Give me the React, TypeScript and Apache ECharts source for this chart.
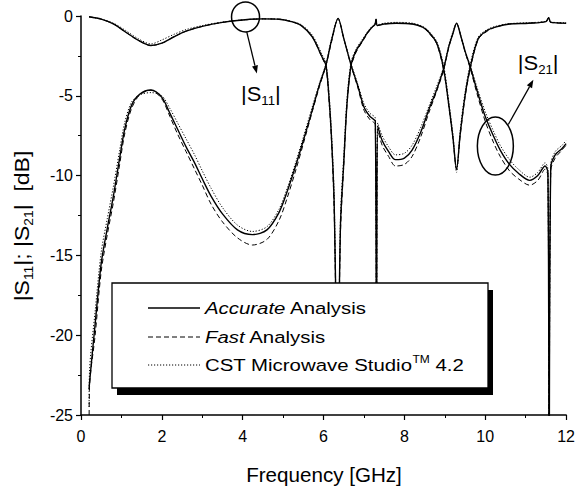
import React, { useEffect, useRef } from 'react';
import * as echarts from 'echarts';

const FONT = '"Liberation Sans", Arial, Helvetica, sans-serif';

// |S11| samples (frequency in GHz, value in dB)
const s11Freq = [0.2, 0.5, 0.8, 1.1, 1.4, 1.73, 2.0, 2.3, 2.6, 3.0, 3.5, 4.0, 4.5, 4.9, 5.2, 5.45, 5.72, 5.96, 6.06, 6.14, 6.2, 6.26, 6.35, 6.42, 6.5, 6.58, 6.68, 6.8, 6.95, 7.1, 7.2, 7.27, 7.3, 7.33, 7.5, 7.8, 8.2, 8.45, 8.6, 8.8, 8.97, 9.1, 9.2, 9.29, 9.38, 9.5, 9.63, 9.83, 10.05, 10.25, 10.6, 11.07, 11.5, 11.57, 11.62, 12.0];
const s11Accurate = [-0.05, -0.2, -0.5, -1.0, -1.5, -1.85, -1.7, -1.3, -0.95, -0.65, -0.4, -0.25, -0.18, -0.2, -0.35, -0.6, -1.3, -2.55, -3.1, -5.3, -7.8, -11.5, -23, -13, -9.2, -5.5, -3.1, -2.2, -1.6, -1.0, -0.7, -0.55, -0.2, -0.6, -0.5, -0.45, -0.5, -0.7, -1.0, -1.7, -3.3, -5.6, -7.6, -9.6, -7.4, -5.0, -3.2, -1.4, -0.9, -0.7, -0.5, -0.45, -0.35, -0.1, -0.4, -0.45];
const s11Fast = [-0.05, -0.2, -0.5, -1.0, -1.5, -1.85, -1.7, -1.3, -0.95, -0.65, -0.4, -0.25, -0.18, -0.2, -0.35, -0.6, -1.3, -2.6, -3.2, -5.5, -8.0, -12, -23, -13.5, -9.4, -5.6, -3.2, -2.3, -1.65, -1.05, -0.7, -0.55, -0.2, -0.6, -0.5, -0.45, -0.5, -0.7, -1.05, -1.75, -3.4, -5.7, -7.7, -9.6, -7.5, -5.1, -3.3, -1.45, -0.95, -0.7, -0.5, -0.45, -0.35, -0.1, -0.4, -0.45];
const s11Cst = [-0.05, -0.2, -0.45, -0.9, -1.4, -1.75, -1.5, -1.15, -0.85, -0.6, -0.38, -0.25, -0.18, -0.2, -0.33, -0.55, -1.2, -2.4, -2.95, -5.0, -7.5, -11, -23, -12.5, -8.8, -5.2, -2.9, -2.1, -1.5, -0.95, -0.65, -0.5, -0.2, -0.55, -0.45, -0.4, -0.45, -0.65, -0.95, -1.6, -3.1, -5.4, -7.4, -9.8, -7.2, -4.8, -3.0, -1.3, -0.85, -0.65, -0.48, -0.42, -0.33, -0.1, -0.38, -0.42];

// |S21| samples
const s21Freq = [0.2, 0.21, 0.35, 0.5, 0.65, 0.8, 0.95, 1.08, 1.25, 1.45, 1.73, 2.0, 2.2, 2.39, 2.6, 2.81, 3.0, 3.22, 3.5, 3.87, 4.24, 4.6, 4.9, 5.1, 5.32, 5.5, 5.72, 5.9, 6.06, 6.2, 6.36, 6.5, 6.68, 6.85, 7.0, 7.15, 7.28, 7.31, 7.34, 7.45, 7.61, 7.78, 8.0, 8.19, 8.4, 8.6, 8.8, 8.97, 9.1, 9.2, 9.29, 9.4, 9.5, 9.63, 9.8, 10.0, 10.2, 10.37, 10.6, 10.82, 11.1, 11.3, 11.48, 11.55, 11.58, 11.62, 11.73, 11.9, 12.0];
const s21Accurate = [-23.4, -23.0, -19.3, -15.5, -13.3, -11.3, -9.0, -7.1, -5.6, -4.9, -4.64, -5.1, -6.1, -7.1, -8.2, -9.2, -10.2, -11.3, -12.4, -13.4, -13.7, -13.4, -12.3, -11.0, -9.3, -7.8, -5.9, -4.3, -3.07, -1.5, -0.15, -1.4, -3.07, -4.4, -5.7, -6.3, -6.6, -23, -6.9, -7.8, -8.5, -9.0, -8.9, -8.4, -7.3, -5.9, -4.6, -3.3, -1.9, -1.1, -0.45, -1.3, -2.2, -3.2, -4.7, -6.3, -7.5, -8.4, -9.3, -9.85, -10.3, -10.0, -9.4, -9.8, -30, -9.5, -8.7, -8.3, -8.0];
const s21Fast = [-26, -23.3, -20.0, -16.0, -13.7, -11.7, -9.4, -7.4, -5.8, -4.95, -4.65, -5.2, -6.3, -7.4, -8.5, -9.6, -10.6, -11.8, -12.9, -13.9, -14.35, -14.0, -12.8, -11.4, -9.6, -8.0, -6.0, -4.4, -3.1, -1.6, -0.15, -1.4, -3.1, -4.5, -5.9, -6.5, -6.8, -23, -7.1, -8.1, -8.8, -9.4, -9.3, -8.8, -7.6, -6.1, -4.7, -3.4, -1.95, -1.1, -0.45, -1.3, -2.25, -3.3, -4.9, -6.6, -7.9, -8.8, -9.7, -10.2, -10.6, -10.3, -9.6, -10.0, -30, -9.7, -8.9, -8.4, -8.1];
const s21Cst = [-24.5, -22.3, -18.5, -14.8, -12.7, -10.7, -8.5, -6.7, -5.4, -4.95, -4.8, -5.0, -5.8, -6.7, -7.7, -8.7, -9.7, -10.8, -12.0, -13.1, -13.5, -13.2, -12.1, -10.8, -9.1, -7.6, -5.7, -4.2, -3.0, -1.4, -0.2, -1.4, -3.0, -4.3, -5.5, -6.1, -6.4, -23, -6.7, -7.5, -8.2, -8.7, -8.6, -8.1, -7.0, -5.7, -4.4, -3.2, -1.8, -1.0, -0.45, -1.3, -2.2, -3.1, -4.5, -6.0, -7.2, -8.1, -9.0, -9.6, -10.1, -9.8, -9.2, -9.6, -30, -9.3, -8.5, -8.1, -7.8];

const legendLabels = [
  '{i|Accurate}{n| Analysis}',
  '{i|Fast}{n| Analysis}',
  '{n|CST Microwave Studio}{t|TM}{n| 4.2}',
];

// annotation anchors in data coordinates
const s11Circle = [4.07, -0.06];
const s11ArrowFrom = [4.1, -1.0];
const s11ArrowTo = [4.35, -3.6];
const s11LabelAt = [4.45, -4.9];
const s21Circle = [10.25, -8.15];
const s21ArrowFrom = [10.57, -6.8];
const s21ArrowTo = [11.19, -4.0];
const s21LabelAt = [11.31, -2.95];

function pairs(xs: number[], ys: number[]) {
  const n = Math.min(xs.length, ys.length);
  const out: number[][] = [];
  for (let i = 0; i < n; i++) out.push([xs[i], ys[i]]);
  return out;
}

const SOLID = { color: '#000', width: 1.4, type: 'solid' as const };
const DASHED = { color: '#000', width: 1, type: [5, 3] as any };
const DOTTED = { color: '#000', width: 1, type: [1.2, 1.8] as any };

export default function App() {
  const ref = useRef<HTMLDivElement>(null);
  useEffect(() => {
    const chart = echarts.init(ref.current!, undefined, { renderer: 'svg' });
    const mkSeries = (name: string, data: number[][], ls: any) => ({
      name,
      type: 'line',
      data,
      showSymbol: false,
      symbol: 'none',
      smooth: 0.3,
      lineStyle: ls,
      clip: true,
      silent: true,
    });
    const axisCommon = {
      axisLine: { show: true, onZero: false, lineStyle: { color: '#000', width: 1.5 } },
      axisTick: { show: true, inside: false, length: 5, lineStyle: { color: '#000', width: 1.2 } },
      minorTick: { show: true, splitNumber: 2, length: 3, lineStyle: { color: '#000', width: 1 } },
      splitLine: { show: false },
      minorSplitLine: { show: false },
    };
    chart.setOption({
      animation: false,
      backgroundColor: '#fff',
      grid: { left: 81, right: 10, top: 16, bottom: 76, containLabel: false },
      xAxis: {
        type: 'value', min: 0, max: 12, interval: 2,
        ...axisCommon,
        axisLabel: { color: '#000', fontSize: 16, fontFamily: FONT, margin: 13 },
      },
      yAxis: {
        type: 'value', min: -25, max: 0, interval: 5,
        ...axisCommon,
        axisLabel: { color: '#000', fontSize: 16, fontFamily: FONT, margin: 8 },
      },
      series: [
        mkSeries('S11 Accurate', pairs(s11Freq, s11Accurate), SOLID),
        mkSeries('S11 Fast', pairs(s11Freq, s11Fast), DASHED),
        mkSeries('S11 CST', pairs(s11Freq, s11Cst), DOTTED),
        mkSeries('S21 Accurate', pairs(s21Freq, s21Accurate), SOLID),
        mkSeries('S21 Fast', pairs(s21Freq, s21Fast), DASHED),
        mkSeries('S21 CST', pairs(s21Freq, s21Cst), DOTTED),
      ],
    });

    const px = (p: number[]) => chart.convertToPixel({ gridIndex: 0 }, p) as number[];
    const arrow = (a: number[], b: number[]) => {
      const dx = b[0] - a[0];
      const dy = b[1] - a[1];
      const len = Math.sqrt(dx * dx + dy * dy) || 1;
      const ux = dx / len, uy = dy / len;
      const nx = -uy, ny = ux;
      const hl = 8, hw = 3;
      const bx = b[0] - ux * hl, by = b[1] - uy * hl;
      return [
        { type: 'line', shape: { x1: a[0], y1: a[1], x2: bx, y2: by }, style: { stroke: '#000', lineWidth: 1.3 }, z: 100 },
        { type: 'polygon', shape: { points: [[b[0], b[1]], [bx + nx * hw, by + ny * hw], [bx - nx * hw, by - ny * hw]] }, style: { fill: '#000' }, z: 100 },
      ];
    };
    const baseRich = (fs: number) => ({
      n: { fontSize: fs, fontFamily: FONT, lineHeight: fs + 6, color: '#000' },
      s: { fontSize: Math.round(fs * 0.6), fontFamily: FONT, lineHeight: Math.round(fs * 0.6), verticalAlign: 'bottom', color: '#000' },
    });

    const c1 = px(s11Circle), c2 = px(s21Circle);
    const l1 = px(s11LabelAt), l2 = px(s21LabelAt);
    const graphics: any[] = [
      { type: 'ellipse', shape: { cx: c1[0], cy: c1[1], rx: 14, ry: 15 }, style: { fill: 'none', stroke: '#000', lineWidth: 1.5 }, z: 100 },
      ...arrow(px(s11ArrowFrom), px(s11ArrowTo)),
      {
        type: 'text', x: l1[0], y: l1[1], scaleX: 1.1, z: 100,
        style: { text: '{n||S}{s|11}{n||}', align: 'center', verticalAlign: 'middle', rich: baseRich(20) },
      },
      { type: 'ellipse', shape: { cx: c2[0], cy: c2[1], rx: 18, ry: 29 }, style: { fill: 'none', stroke: '#000', lineWidth: 1.5 }, z: 100 },
      ...arrow(px(s21ArrowFrom), px(s21ArrowTo)),
      {
        type: 'text', x: l2[0], y: l2[1], scaleX: 1.1, z: 100,
        style: { text: '{n||S}{s|21}{n||}', align: 'center', verticalAlign: 'middle', rich: baseRich(20) },
      },
      // axis titles
      {
        type: 'text', x: 324, y: 475, scaleX: 1.03, z: 100,
        style: { text: 'Frequency [GHz]', fontSize: 20, fontFamily: FONT, fill: '#000', align: 'center', verticalAlign: 'middle' },
      },
      {
        type: 'text', x: 22, y: 226, rotation: Math.PI / 2, scaleX: 1.15, z: 100,
        style: { text: '{n||S}{s|11}{n||; |S}{s|21}{n||  [dB]}', align: 'center', verticalAlign: 'middle', rich: baseRich(20) },
      },
      // legend
      { type: 'rect', shape: { x: 117, y: 290, width: 376, height: 105 }, style: { fill: '#000' }, z: 110 },
      { type: 'rect', shape: { x: 112, y: 283, width: 376, height: 105 }, style: { fill: '#fff', stroke: '#000', lineWidth: 1.3 }, z: 111 },
    ];
    const rows = [308, 337, 365];
    const styles = [SOLID, DASHED, DOTTED];
    rows.forEach((y, i) => {
      const st = styles[i];
      graphics.push({
        type: 'line', z: 112,
        shape: { x1: 148, y1: y, x2: 200, y2: y },
        style: { stroke: '#000', lineWidth: st.width, lineDash: Array.isArray(st.type) ? st.type : null },
      });
      graphics.push({
        type: 'text', x: 205, y, scaleX: 1.2, z: 112,
        style: {
          text: legendLabels[i], align: 'left', verticalAlign: 'middle',
          rich: {
            n: { fontSize: 17, fontFamily: FONT, lineHeight: 22, color: '#000' },
            i: { fontSize: 17, fontFamily: FONT, fontStyle: 'italic', lineHeight: 22, color: '#000' },
            t: { fontSize: 10, fontFamily: FONT, lineHeight: 10, verticalAlign: 'top', color: '#000' },
          },
        },
      });
    });
    chart.setOption({ graphic: graphics });
    return () => chart.dispose();
  }, []);
  return <div ref={ref} style={{ position: 'fixed', left: 0, top: 0, width: 578, height: 491 }} />;
}
